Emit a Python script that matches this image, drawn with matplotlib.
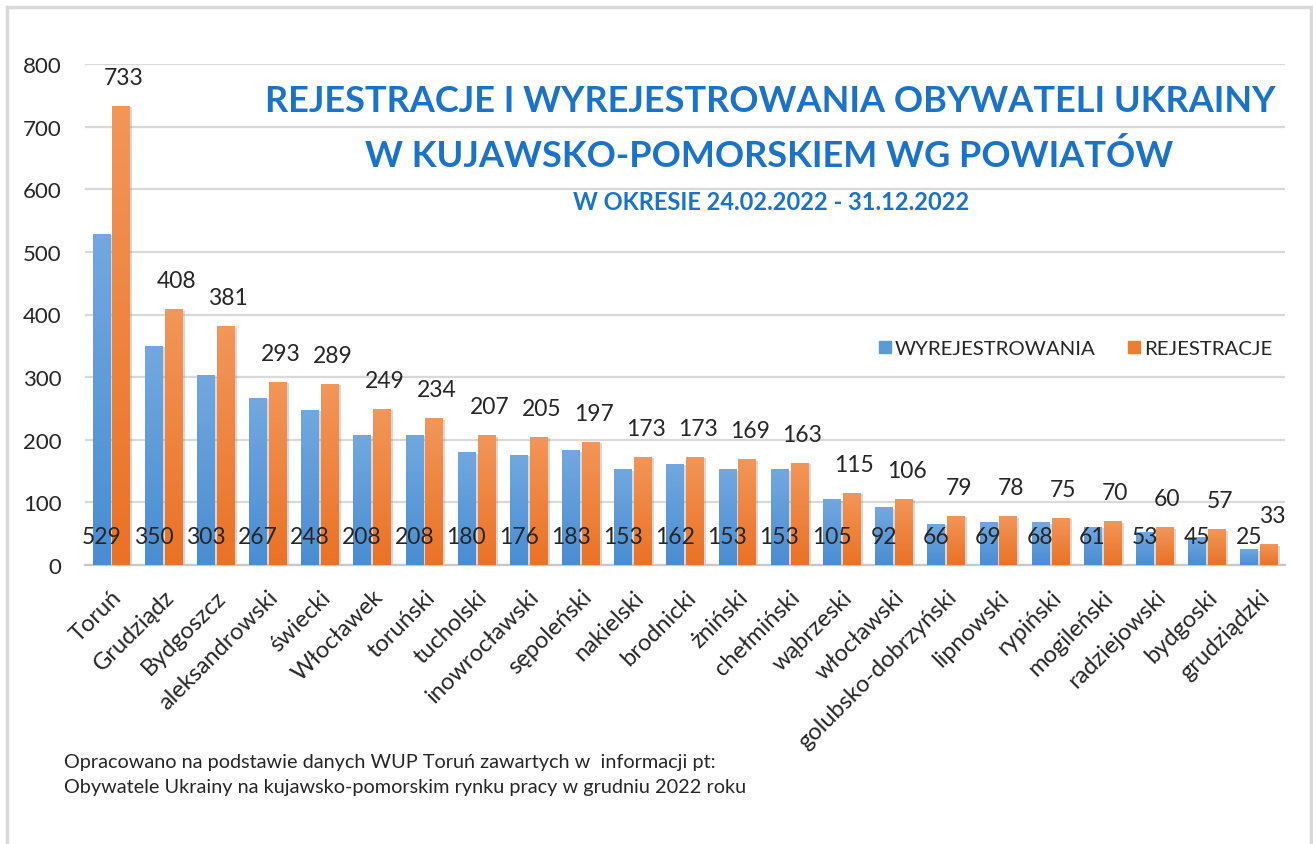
import numpy as np
import matplotlib
matplotlib.use('Agg')
import matplotlib.pyplot as plt
import matplotlib.patheffects as pe
from matplotlib.colors import LinearSegmentedColormap
from matplotlib.lines import Line2D

powiaty = ['Toruń', 'Grudziądz', 'Bydgoszcz', 'aleksandrowski', 'świecki', 'Włocławek',
           'toruński', 'tucholski', 'inowrocławski', 'sępoleński', 'nakielski', 'brodnicki',
           'żniński', 'chełmiński', 'wąbrzeski', 'włocławski', 'golubsko-dobrzyński',
           'lipnowski', 'rypiński', 'mogileński', 'radziejowski', 'bydgoski', 'grudziądzki']
wyrejestrowania = [529, 350, 303, 267, 248, 208, 208, 180, 176, 183, 153, 162, 153, 153,
                   105, 92, 66, 69, 68, 61, 53, 45, 25]
rejestracje = [733, 408, 381, 293, 289, 249, 234, 207, 205, 197, 173, 173, 169, 163,
               115, 106, 79, 78, 75, 70, 60, 57, 33]
y_ticks = [0, 100, 200, 300, 400, 500, 600, 700, 800]

plt.rcParams['font.family'] = ['Lato', 'DejaVu Sans']

W, H = 1313, 845
fig = plt.figure(figsize=(W / 100, H / 100), dpi=100)
ax = fig.add_axes([85 / W, 1 - 566 / H, 1200 / W, 501 / H])

x = np.arange(len(powiaty))
bw = 0.33
off = 0.19

blue_cmap = LinearSegmentedColormap.from_list('b', ['#4a8dd2', '#72a8df'])
orange_cmap = LinearSegmentedColormap.from_list('o', ['#ea7226', '#f29659'])
grad = np.linspace(0, 1, 64).reshape(-1, 1)

shadow = [pe.SimplePatchShadow(offset=(2, -1), shadow_rgbFace='#808080', alpha=0.3), pe.Normal()]


def gradient_bars(xs, vals, cmap, base):
    bars = ax.bar(xs, vals, bw, color=base, zorder=2)
    for b in bars:
        b.set_path_effects(shadow)
        x0 = b.get_x()
        im = ax.imshow(grad, extent=[x0, x0 + b.get_width(), 0, b.get_height()],
                       origin='lower', aspect='auto', cmap=cmap, zorder=3)
        im.set_clip_path(b)
    return bars


gradient_bars(x - off, wyrejestrowania, blue_cmap, '#5b9bd5')
gradient_bars(x + off, rejestracje, orange_cmap, '#ed7d31')

ax.set_xlim(-0.5, len(powiaty) - 0.5)
ax.set_ylim(0, 800)
ax.set_yticks(y_ticks)
ax.grid(axis='y', color='#d9d9d9', linewidth=1.6, zorder=0)
ax.set_axisbelow(True)
for s in ['top', 'right', 'left']:
    ax.spines[s].set_visible(False)
ax.spines['bottom'].set_color('#c8c8c8')
ax.spines['bottom'].set_linewidth(1.6)
ax.tick_params(axis='both', length=0, labelsize=16, labelcolor='#262626')
ax.tick_params(axis='y', pad=17)
ax.set_xticks(x)
ax.set_xticklabels(powiaty, rotation=45, ha='right', rotation_mode='anchor', fontsize=17)
ax.tick_params(axis='x', pad=15)

# value labels: blue at the base, orange above the bar
for xi, v in zip(x - off, wyrejestrowania):
    ax.annotate(str(v), (xi, 0), xytext=(0, 29), textcoords='offset pixels',
                ha='center', va='center', fontsize=16.5, color='#262626', zorder=5)
for xi, v in zip(x + off, rejestracje):
    ax.annotate(str(v), (xi, v), xytext=(3, 18), textcoords='offset pixels',
                ha='center', va='bottom', fontsize=16.5, color='#262626', zorder=5)

# title block
title_color = '#1a73c8'
fig.text(770 / W, 1 - 101 / H, 'REJESTRACJE I WYREJESTROWANIA OBYWATELI UKRAINY',
         ha='center', va='center', fontsize=26, fontweight='bold', color=title_color)
fig.text(769 / W, 1 - 156 / H, 'W KUJAWSKO-POMORSKIEM WG POWIATÓW',
         ha='center', va='center', fontsize=26, fontweight='bold', color=title_color)
fig.text(771 / W, 1 - 203 / H, 'W OKRESIE 24.02.2022 - 31.12.2022',
         ha='center', va='center', fontsize=17, fontweight='bold', color=title_color)

# legend
handles = [Line2D([], [], marker='s', linestyle='', markersize=9, color='#5b9bd5'),
           Line2D([], [], marker='s', linestyle='', markersize=9, color='#ed7d31')]
fig.legend(handles, ['WYREJESTROWANIA', 'REJESTRACJE'], loc='center left',
           bbox_to_anchor=(860 / W, 1 - 349 / H), ncol=2, frameon=False,
           fontsize=14.7, handlelength=0.6, handletextpad=0.2, columnspacing=1.6,
           labelcolor='#262626')

# source note
fig.text(64 / W, 1 - 763 / H,
         'Opracowano na podstawie danych WUP Toruń zawartych w  informacji pt:',
         ha='left', va='center', fontsize=14.3, color='#262626')
fig.text(64 / W, 1 - 788 / H,
         'Obywatele Ukrainy na kujawsko-pomorskim rynku pracy w grudniu 2022 roku',
         ha='left', va='center', fontsize=14.3, color='#262626')

# chart frame
frame = dict(color='#d9d9d9', linewidth=2.5, transform=fig.transFigure)
fig.add_artist(Line2D([7 / W, 1311 / W], [1 - 8 / H, 1 - 8 / H], **frame))
fig.add_artist(Line2D([7 / W, 7 / W], [1 - 8 / H, 0], **frame))
fig.add_artist(Line2D([1311 / W, 1311 / W], [1 - 8 / H, 0], **frame))

fig.savefig('out.png', dpi=100)
